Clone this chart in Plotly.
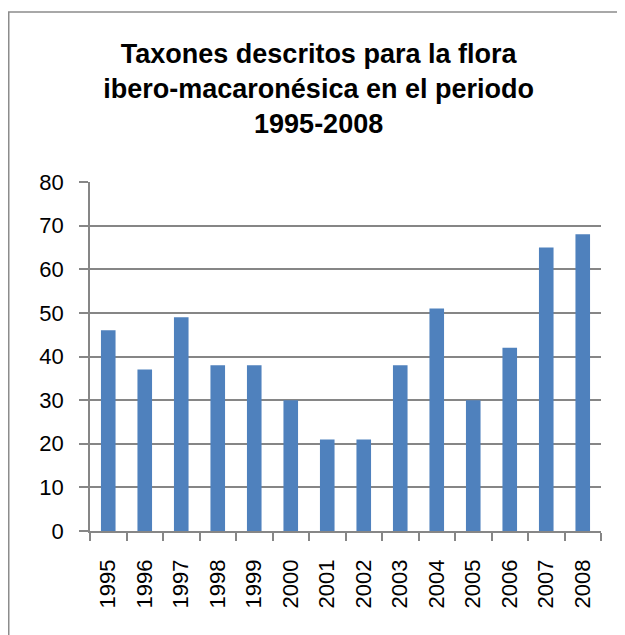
import plotly.graph_objects as go

years = ["1995", "1996", "1997", "1998", "1999", "2000", "2001",
         "2002", "2003", "2004", "2005", "2006", "2007", "2008"]
taxa = [46, 37, 49, 38, 38, 30, 21, 21, 38, 51, 30, 42, 65, 68]
y_ticks = [0, 10, 20, 30, 40, 50, 60, 70, 80]

title_text = ("Taxones descritos para la flora<br>"
              "ibero-macaronésica en el periodo<br>1995-2008")

grid_col = "#868686"

L, T, W, H = 82, 174, 511, 349

fig = go.Figure(go.Bar(x=years, y=taxa, marker=dict(color="#4F81BD", line=dict(width=0)),
                       width=0.4))

fig.update_layout(
    width=625, height=635,
    margin=dict(l=L, r=625 - L - W, t=T, b=635 - T - H),
    paper_bgcolor="white", plot_bgcolor="white",
    showlegend=False,
    font=dict(family="Liberation Sans, Arial, sans-serif", color="black", size=22),
    title=dict(text=title_text, x=0.497, xanchor="center", xref="container",
               y=0.913, yanchor="middle", yref="container",
               font=dict(family="Liberation Sans, Arial, sans-serif", size=27,
                         color="black", weight="bold")),
    bargap=0.6,
)

fig.update_xaxes(type="category", showgrid=False, showline=True, linecolor=grid_col,
                 linewidth=1.5, ticks="outside", tickson="boundaries", ticklen=8,
                 tickcolor=grid_col, tickwidth=1.5, tickangle=-90,
                 ticklabelstandoff=18, tickfont=dict(size=22))
fig.update_yaxes(range=[0, 80], tickvals=y_ticks, showgrid=True, gridcolor=grid_col,
                 gridwidth=1.5, showline=True, linecolor=grid_col, linewidth=1.5,
                 ticks="outside", ticklen=9, tickcolor=grid_col, tickwidth=1.5,
                 ticklabelstandoff=11, zeroline=False, tickfont=dict(size=22))

# outer chart border
fig.add_shape(type="rect", xref="paper", yref="paper",
              x0=(0.75 - L) / W, x1=(650 - L) / W,
              y0=(T + H - 660) / H, y1=(T + H - 4) / H,
              line=dict(color="#8C8C8C", width=1.5), fillcolor="rgba(0,0,0,0)",
              layer="below")

fig.write_html("out.html")
